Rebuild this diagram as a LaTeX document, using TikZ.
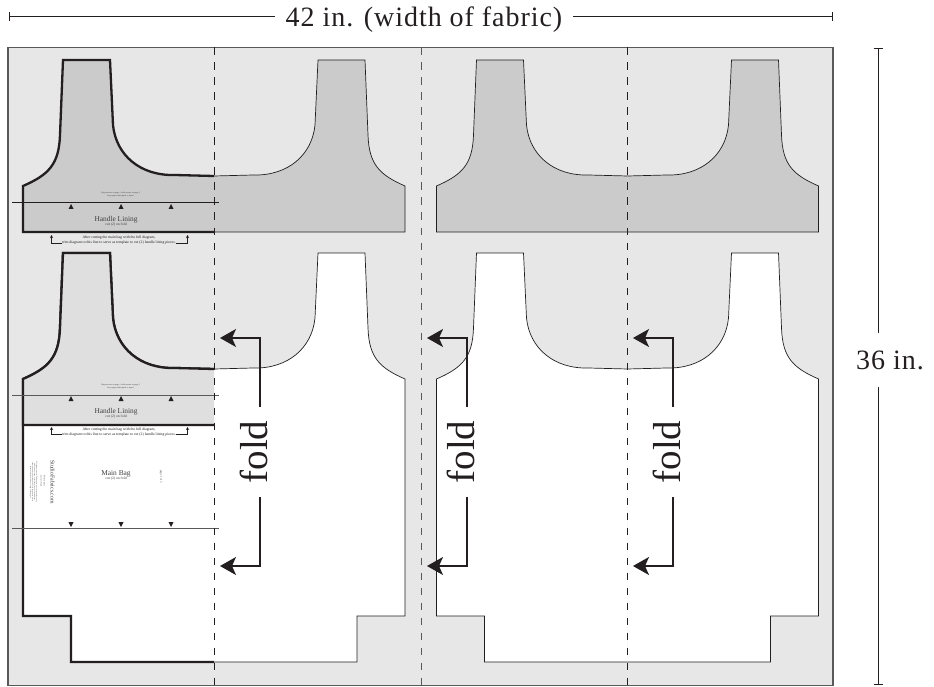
\documentclass[tikz,border=0pt]{standalone}
\usepackage{fontspec}
\setmainfont{Liberation Serif}
\newfontfamily\dimfont[LetterSpace=3.4]{Liberation Serif}
\usetikzlibrary{arrows.meta}

\definecolor{ink}{HTML}{231F20}
\definecolor{fabric}{HTML}{E7E7E7}
\definecolor{lining}{HTML}{CBCBCB}
\definecolor{liningpale}{HTML}{DFDFDF}
\definecolor{edgegray}{HTML}{58595B}
\definecolor{smalltext}{HTML}{404042}

\tikzset{
  thinline/.style={draw=ink,line width=0.7pt,line join=miter},
  thickline/.style={draw=ink,line width=2.3pt,line join=miter},
  foldline/.style={draw=ink,line width=0.8pt,dash pattern=on 7.5pt off 7.5pt},
  guideline/.style={draw=#1,line width=1pt},
  foldarrow/.style={draw=ink,line width=1.6pt,-{Stealth[length=16pt,width=18pt,inset=4pt]}},
  foldlabel/.style={rotate=90,text=ink,font=\fontsize{39}{39}\selectfont,inner xsep=13.5pt,inner ysep=0pt},
  dimline/.style={draw=ink,line width=1pt,-{Bar[width=9pt,line width=1.4pt]}},
  dimlabel/.style={text=ink,font=\dimfont\fontsize{28}{30}\selectfont,inner sep=0pt},
  piecename/.style={text=smalltext,font=\fontsize{7.4}{8}\selectfont,inner sep=0pt},
  cutnote/.style={text=smalltext,font=\fontsize{3.7}{4}\selectfont,inner sep=0pt},
  tinynote/.style={text=smalltext,font=\fontsize{2.1}{3}\selectfont,align=center,inner sep=0pt},
  trimnote/.style={text=ink,font=\fontsize{3.75}{5}\selectfont,align=center,inner sep=0pt},
  trimarrow/.style={draw=ink,line width=0.6pt,-{Stealth[length=3pt,width=3pt]}},
  sidenote/.style={rotate=-90,text=smalltext,align=center,inner sep=0pt},
}

% half outlines, running from the fold to the fold
\newcommand{\liningpath}{(214,232) -- (23,232) -- (23,186)
  .. controls (48,175) and (59,165) .. (60,135) -- (63,60) -- (110,60) -- (113,125)
  .. controls (116,155) and (140,176) .. (175,175) -- (214,176)}
\newcommand{\bagpath}{(214,469) -- (71,469) -- (71,423) -- (23,423) -- (23,186)
  .. controls (48,175) and (59,165) .. (60,135) -- (63,60) -- (110,60) -- (113,125)
  .. controls (116,155) and (140,176) .. (175,175) -- (214,176)}

% xshift, yshift, xscale, fill, line, outline
\newcommand{\cutpiece}[6]{
  \begin{scope}[shift={(#1,#2)},xscale=#3]
    \fill[#4] #6 -- cycle;
    \draw[#5] #6;
  \end{scope}
}
\newcommand{\notchup}[3]{\fill[#3] (#1-2.5,#2+5) -- (#1,#2) -- (#1+2.5,#2+5) -- cycle;}
\newcommand{\notchdown}[3]{\fill[#3] (#1-2.5,#2-5) -- (#1,#2) -- (#1+2.5,#2-5) -- cycle;}

\begin{document}
\begin{tikzpicture}[x=1pt,y=-1pt]

  \useasboundingbox (0,0) rectangle (934,687);

  % fabric
  \draw[draw=edgegray,fill=fabric,line width=1.2pt] (8,47.5) rectangle (833,685.5);

  % lining row
  \cutpiece{0}{0}{1}{lining}{thickline}{\liningpath}
  \cutpiece{428}{0}{-1}{lining}{thinline}{\liningpath}
  \cutpiece{413.5}{0}{1}{lining}{thinline}{\liningpath}
  \cutpiece{841.5}{0}{-1}{lining}{thinline}{\liningpath}

  % main bag row
  \cutpiece{0}{193}{1}{white}{thickline}{\bagpath}
  \cutpiece{428}{193}{-1}{white}{thinline}{\bagpath}
  \cutpiece{413.5}{193}{1}{white}{thinline}{\bagpath}
  \cutpiece{841.5}{193}{-1}{white}{thinline}{\bagpath}
  \cutpiece{0}{193}{1}{liningpale}{thickline}{\liningpath}

  % alignment lines
  \coordinate (alignAl) at (12,203);
  \coordinate (alignAr) at (219,203);
  \coordinate (alignBl) at (12,395);
  \coordinate (alignBr) at (219,395);
  \coordinate (alignCl) at (12,528);
  \coordinate (alignCr) at (219,528);
  \draw[guideline=ink] (alignAl) -- (alignAr);
  \draw[guideline=edgegray] (alignBl) -- (alignBr);
  \draw[guideline=edgegray] (alignCl) -- (alignCr);

  \notchup{71}{204}{ink}
  \notchup{121}{204}{ink}
  \notchup{171}{204}{ink}
  \notchup{71}{396}{ink}
  \notchup{121}{396}{ink}
  \notchup{171}{396}{ink}
  \notchdown{71}{527}{ink}
  \notchdown{121}{527}{ink}
  \notchdown{171}{527}{ink}

  % labels on the pieces
  \node[tinynote] (alignnoteA) at (120.5,194.5) {Align arrows on page 1 with arrows on page 2\\keep pages ends glued or taped};
  \node[piecename] (liningA) at (116,219.5) {Handle Lining};
  \node[cutnote] (liningcutA) at (116,225) {cut (2) on fold};
  \node[trimnote] (trimA) at (119,240.5) {After cutting the main bag with the full diagram,\\trim diagram to this line to serve as template to cut (2) handle lining pieces.};

  \node[tinynote] (alignnoteB) at (120.5,386.5) {Align arrows on page 1 with arrows on page 2\\keep pages ends glued or taped};
  \node[piecename] (liningB) at (116,411.5) {Handle Lining};
  \node[cutnote] (liningcutB) at (116,417) {cut (2) on fold};
  \node[trimnote] (trimB) at (119,432) {After cutting the main bag with the full diagram,\\trim diagram to this line to serve as template to cut (2) handle lining pieces.};

  \node[piecename] (bagname) at (116,473.5) {Main Bag};
  \node[cutnote] (bagcut) at (116,478.5) {cut (2) on fold};
  \node[sidenote,font=\fontsize{5.8}{7}\selectfont] (shopname) at (52.5,482) {StudioFabrics.com};
  \node[sidenote,font=\fontsize{2.1}{3.2}\selectfont] (shopnote) at (43,481) {Pattern piece\\not for resale};
  \node[sidenote,font=\fontsize{1.8}{2}\selectfont] (copynote) at (33.5,482) {All rights reserved. This pattern is for personal use only,\\please do not copy or sell the pieces or the diagram,\\seam allowance is included on all of the pattern pieces\\print at full size with no scaling of the pages};
  \node[sidenote,font=\fontsize{2.8}{3}\selectfont] (pagenote) at (161,476.5) {page 1 of 3};

  \coordinate (trimAl) at (51.5,235);
  \coordinate (trimAr) at (187.5,235);
  \coordinate (trimBl) at (51.5,427);
  \coordinate (trimBr) at (187.5,427);
  \draw[trimarrow] ([yshift=2pt]trimA.south west) -| (trimAl);
  \draw[trimarrow] ([yshift=2pt]trimA.south east) -| (trimAr);
  \draw[trimarrow] ([yshift=2.5pt]trimB.south west) -| (trimBl);
  \draw[trimarrow] ([yshift=2.5pt]trimB.south east) -| (trimBr);

  % fold lines
  \coordinate (foldAt) at (214,47.5);
  \coordinate (foldAb) at (214,685.5);
  \coordinate (foldBt) at (421,47.5);
  \coordinate (foldBb) at (421,685.5);
  \coordinate (foldCt) at (627.5,47.5);
  \coordinate (foldCb) at (627.5,685.5);
  \draw[foldline] (foldAt) -- (foldAb);
  \draw[foldline,draw=edgegray] (foldBt) -- (foldBb);
  \draw[foldline] (foldCt) -- (foldCb);

  % fold labels and arrows
  \node[foldlabel] (foldA) at (254,452) {fold};
  \node[foldlabel] (foldB) at (461,452) {fold};
  \node[foldlabel] (foldC) at (667,452) {fold};

  \coordinate (tipAu) at (220,338);
  \coordinate (tipAd) at (220,566);
  \coordinate (tipBu) at (427,338);
  \coordinate (tipBd) at (427,566);
  \coordinate (tipCu) at (633,338);
  \coordinate (tipCd) at (633,566);

  \draw[foldarrow] ([xshift=6pt]foldA.east) |- (tipAu);
  \draw[foldarrow] ([xshift=6pt]foldA.west) |- (tipAd);
  \draw[foldarrow] ([xshift=6pt]foldB.east) |- (tipBu);
  \draw[foldarrow] ([xshift=6pt]foldB.west) |- (tipBd);
  \draw[foldarrow] ([xshift=6pt]foldC.east) |- (tipCu);
  \draw[foldarrow] ([xshift=6pt]foldC.west) |- (tipCd);

  % dimensions
  \node[dimlabel,inner xsep=11pt] (widthlabel) at (424,20) {42 in. (width of fabric)};
  \coordinate (widthl) at (9,17);
  \coordinate (widthr) at (833,17);
  \draw[dimline] (widthlabel.west |- widthl) -- (widthl);
  \draw[dimline] (widthlabel.east |- widthr) -- (widthr);

  \node[dimlabel,inner ysep=17pt] (heightlabel) at (890,360) {36 in.};
  \coordinate (heightt) at (878,48);
  \coordinate (heightb) at (878,685);
  \draw[dimline] (heightt |- heightlabel.north) -- (heightt);
  \draw[dimline] (heightb |- heightlabel.south) -- (heightb);

\end{tikzpicture}
\end{document}
